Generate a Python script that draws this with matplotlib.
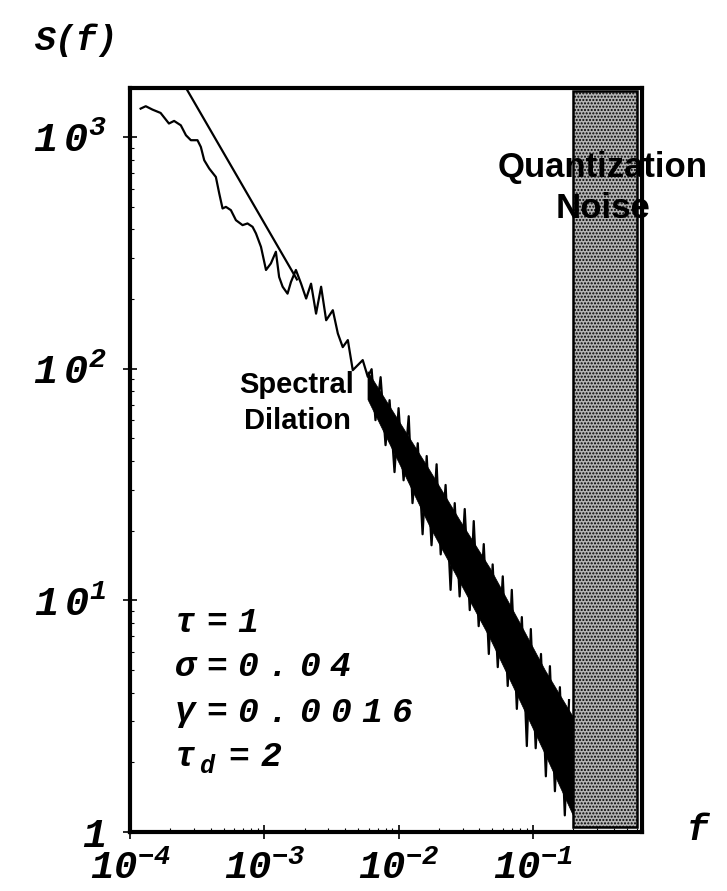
import numpy as np
import matplotlib.pyplot as plt

# measured spectrum S(f): low-frequency trace followed by the noisy high-frequency part
f_spec = [1.20e-4, 1.31e-4, 1.47e-4, 1.69e-4, 1.95e-4, 2.13e-4, 2.39e-4, 2.61e-4,
          2.84e-4, 3.18e-4, 3.37e-4, 3.57e-4, 3.89e-4, 4.36e-4, 4.62e-4, 4.89e-4,
          5.18e-4, 5.64e-4, 6.15e-4, 6.89e-4, 7.50e-4, 8.18e-4, 8.67e-4, 9.45e-4,
          1.03e-3, 1.12e-3, 1.22e-3, 1.29e-3, 1.37e-3, 1.49e-3, 1.58e-3, 1.72e-3,
          1.88e-3, 2.05e-3, 2.23e-3, 2.43e-3, 2.65e-3, 2.89e-3, 3.24e-3, 3.53e-3,
          3.84e-3, 4.19e-3, 4.56e-3, 5.41e-3, 5.90e-3,
          6.30e-3, 6.73e-3, 7.35e-3, 8.00e-3, 8.57e-3, 9.33e-3, 1.00e-2, 1.09e-2,
          1.19e-2, 1.27e-2, 1.39e-2, 1.51e-2, 1.62e-2, 1.76e-2, 1.92e-2, 2.06e-2,
          2.24e-2, 2.44e-2, 2.62e-2, 2.85e-2, 3.11e-2, 3.39e-2, 3.63e-2, 3.95e-2,
          4.31e-2, 4.70e-2, 5.02e-2, 5.48e-2, 5.97e-2, 6.50e-2, 6.97e-2, 7.60e-2,
          8.28e-2, 9.02e-2, 9.66e-2, 0.105, 0.115, 0.125, 0.134, 0.146,
          0.159, 0.173, 0.186]
S_spec = [1328, 1360, 1315, 1272, 1145, 1175, 1125, 1019,
          970, 970, 907, 795, 732, 673, 571, 492,
          500, 484, 438, 417, 424, 410, 384, 336,
          267, 285, 320, 249, 226, 211, 237, 267,
          233, 201, 233, 173, 226, 162, 179, 142,
          124, 133, 98.6, 109, 92.3,
          99.6, 60.0, 92.0, 46.8, 73.2, 35.8, 67.6, 33.0,
          62.4, 26.3, 47.7, 19.3, 42.0, 17.3, 38.7, 15.8,
          31.5, 11.1, 26.3, 10.4, 24.8, 9.08, 22.0, 7.74,
          17.5, 5.87, 14.3, 5.15, 12.7, 4.27, 11.1, 3.40,
          8.47, 2.35, 7.52, 2.30, 5.87, 1.74, 5.20, 1.50,
          4.22, 1.18, 3.71]

# solid core of the noisy band
f_core = [5.87e-3, 1.016e-2, 1.70e-2, 2.85e-2, 4.78e-2, 8.00e-2, 0.123, 0.199]
S_core_hi = [97.7, 58.8, 36.5, 22.2, 13.8, 7.98, 5.00, 3.14]
S_core_lo = [73.9, 38.7, 20.9, 12.0, 6.87, 3.68, 2.17, 1.18]

# 1/f reference line
line_f = [2.0e-4, 1.75e-3]
line_S = [2130, 243]

# quantization noise region
quant_lo, quant_hi = 0.2, 0.6

xticks = [1e-4, 1e-3, 1e-2, 1e-1]
xtick_labels = [r'$\mathdefault{10^{-4}}$', r'$\mathdefault{10^{-3}}$',
                r'$\mathdefault{10^{-2}}$', r'$\mathdefault{10^{-1}}$']
yticks = [1, 10, 100, 1000]
ytick_labels = ['1', r'$\mathdefault{1\,0^{1}}$', r'$\mathdefault{1\,0^{2}}$',
                r'$\mathdefault{1\,0^{3}}$']

params = ['τ=1', 'σ=0.04', 'γ=0.0016']
tau_d = ['τ', 'd', '=', '2']

mono = dict(family='Liberation Mono', weight='bold', style='italic')

fig = plt.figure(figsize=(7.27, 8.91), dpi=100)
ax = fig.add_axes([130/727, 1 - 832/891, 512/727, 744/891])
ax.set_xscale('log')
ax.set_yscale('log')
ax.set_xlim(1e-4, 0.65)
ax.set_ylim(1, 1630)

ax.fill_between(f_core, S_core_lo, S_core_hi, color='black', lw=0.5)
ax.plot(f_spec, S_spec, color='black', lw=1.6)
ax.plot(line_f, line_S, color='black', lw=1.6)

ax.axvspan(quant_lo, quant_hi, ymin=0.007, ymax=0.996, facecolor='#b4b4b4',
           edgecolor='black', hatch='.....', lw=1.8, zorder=3)

for sp in ax.spines.values():
    sp.set_linewidth(3)
    sp.set_zorder(4)

ax.set_xticks(xticks)
ax.set_xticklabels(xtick_labels, fontdict=mono, fontsize=28)
ax.set_yticks(yticks)
ax.set_yticklabels(ytick_labels, fontdict=mono, fontsize=29)
ax.tick_params(which='major', direction='inout', length=10, width=1.2)
ax.tick_params(axis='x', which='major', pad=8)
ax.tick_params(axis='y', which='major', pad=12)
ax.tick_params(which='minor', direction='in', length=3, width=0.8)
ax.tick_params(axis='both', which='minor', labelleft=False, labelbottom=False)

fig.text(35/727, 1 - 40/891, 'S(f)', fontsize=25, va='center', ha='left', **mono)
fig.text(698/727, 1 - 831/891, 'f', fontsize=26, va='center', ha='center', **mono)

# parameter block, typed with the wide letter pitch of the original
pitch = 31 / 727
for i, p in enumerate(params):
    y = 1 - (622 + 45*i)/891
    for j, ch in enumerate(p):
        fig.text(175/727 + j*pitch, y, ch, fontsize=25, va='center', ha='left', **mono)

y = 1 - (622 + 45*3)/891
for ch, xp in zip(tau_d, [175, 199, 228, 261]):
    if ch == 'd':
        fig.text(xp/727, y - 9/891, ch, fontsize=18, va='center', ha='left', **mono)
    else:
        fig.text(xp/727, y, ch, fontsize=25, va='center', ha='left', **mono)

fig.text(297/727, 1 - 403/891, 'Spectral\nDilation', fontsize=21,
         family='Liberation Sans', weight='bold', ha='center', va='center',
         linespacing=1.35)
fig.text(603/727, 1 - 188/891, 'Quantization\nNoise', fontsize=25,
         family='Liberation Sans', weight='bold', ha='center', va='center',
         linespacing=1.3, zorder=6)

fig.savefig('out.png', dpi=100)
